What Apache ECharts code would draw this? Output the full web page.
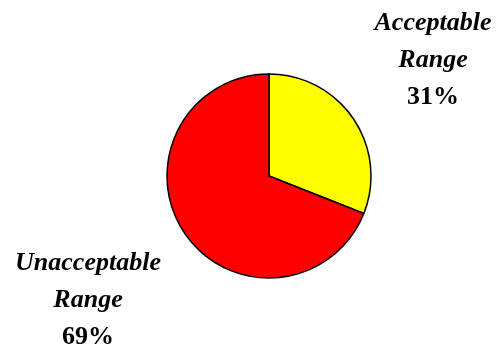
<!DOCTYPE html>
<html>
<head>
<meta charset="utf-8">
<style>
  html, body { margin: 0; padding: 0; background: #fff; }
  #chart { width: 496px; height: 345px; }
</style>
<script src="https://cdn.jsdelivr.net/npm/echarts@6/dist/echarts.min.js"></script>
</head>
<body>
<div id="chart"></div>
<script>
// Share of readings by range
const categories = ['Acceptable', 'Unacceptable'];
const values = [31, 69];
const colors = ['#FFFF00', '#FF0000'];

// Label anchor points (block centres) for each slice
const labelAnchors = [[433, 60], [88, 300]];

const chart = echarts.init(document.getElementById('chart'), null, { renderer: 'canvas' });

const serif = 'Liberation Serif, Times New Roman, serif';

chart.setOption({
  animation: false,
  backgroundColor: '#ffffff',
  series: [{
    type: 'pie',
    center: [269, 176],
    radius: [0, 102],
    startAngle: 90,
    clockwise: true,
    data: categories.map((c, i) => ({
      name: c,
      value: values[i],
      itemStyle: { color: colors[i] }
    })),
    itemStyle: { borderColor: '#000', borderWidth: 1.5 },
    label: {
      show: true,
      position: 'outside',
      overflow: 'none',
      edgeDistance: 0,
      formatter: p => '{n|' + p.name + '}\n{n|Range}\n{p|' + Math.round(p.percent) + '%}',
      rich: {
        n: {
          fontFamily: serif, fontSize: 26, fontWeight: 'bold', fontStyle: 'italic',
          color: '#000', lineHeight: 37, align: 'center'
        },
        p: {
          fontFamily: serif, fontSize: 26, fontWeight: 'bold',
          color: '#000', lineHeight: 37, align: 'center'
        }
      }
    },
    labelLine: { show: false },
    labelLayout: params => ({
      x: labelAnchors[params.dataIndex][0],
      y: labelAnchors[params.dataIndex][1],
      align: 'center',
      verticalAlign: 'middle'
    }),
    emphasis: { disabled: true }
  }]
});
</script>
</body>
</html>
